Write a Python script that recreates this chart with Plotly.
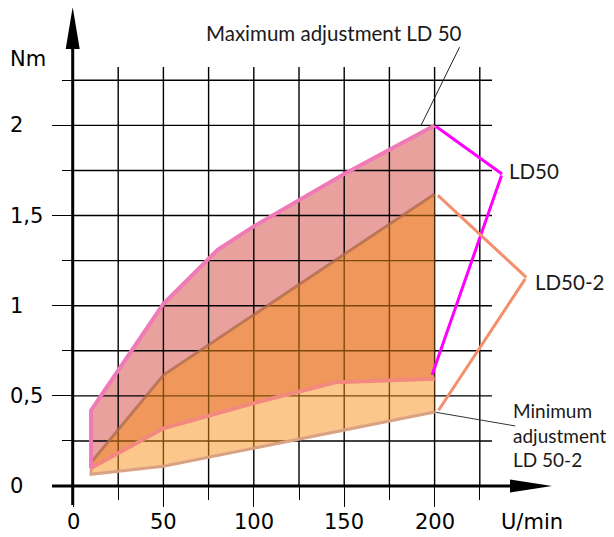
import plotly.graph_objects as go

# ---------------- data ----------------
ld50_upper_x = [10, 50, 80, 100, 150, 200]
ld50_upper_y = [0.42, 1.01, 1.31, 1.44, 1.73, 2.0]
ld50_lower_x = [10, 50, 100, 145, 200]
ld50_lower_y = [0.10, 0.32, 0.46, 0.575, 0.595]

ld502_upper_x = [10, 50, 200]
ld502_upper_y = [0.13, 0.615, 1.62]
ld502_lower_x = [10, 50, 200]
ld502_lower_y = [0.065, 0.11, 0.41]

x_tick_vals = [0, 50, 100, 150, 200]
x_tick_text = ["0", "50", "100", "150", "200"]
y_tick_vals = [0, 0.5, 1, 1.5, 2]
y_tick_text = ["0", "0,5", "1", "1,5", "2"]
x_grid_step = 25
y_grid_step = 0.25

# ---------------- geometry ----------------
W, H = 614, 537
OFF = 8  # page body margin
L, T, PW, PH = 73 - OFF, 67 - OFF, 419, 419
R, B = W - L - PW, H - T - PH
X_PER, Y_PER = 1.808, 180.3
x_max = PW / X_PER
y_max = PH / Y_PER


def pxx(p):
    return (p - OFF - L) / PW


def pxy(p):
    return (T + PH - (p - OFF)) / PH


fig = go.Figure()

# LD50 (pink) region
fig.add_trace(go.Scatter(
    x=ld50_upper_x + ld50_lower_x[::-1],
    y=ld50_upper_y + ld50_lower_y[::-1],
    fill="toself", fillcolor="#E9A19E", mode="lines",
    line=dict(width=0), hoverinfo="skip", showlegend=False))

# grid (drawn above the pink area, below the orange one)
gx, gy = [], []
v = x_grid_step
while v < x_max:
    gx += [v, v, None]
    gy += [0, y_max, None]
    v += x_grid_step
v = y_grid_step
while v < y_max:
    gx += [0, x_max, None]
    gy += [v, v, None]
    v += y_grid_step
fig.add_trace(go.Scatter(x=gx, y=gy, mode="lines",
                         line=dict(color="black", width=1.4),
                         hoverinfo="skip", showlegend=False))

# LD50-2 (orange) region
fig.add_trace(go.Scatter(
    x=ld502_upper_x + ld502_lower_x[::-1],
    y=ld502_upper_y + ld502_lower_y[::-1],
    fill="toself", fillcolor="rgba(247,143,23,0.5)", mode="lines",
    line=dict(width=0), hoverinfo="skip", showlegend=False))

# boundary lines
fig.add_trace(go.Scatter(x=ld502_upper_x, y=ld502_upper_y, mode="lines",
                         line=dict(color="rgba(175,105,75,0.75)", width=3),
                         hoverinfo="skip", showlegend=False))
fig.add_trace(go.Scatter(x=[ld502_upper_x[0]] + ld502_lower_x,
                         y=[ld502_upper_y[0]] + ld502_lower_y, mode="lines",
                         line=dict(color="#D9A283", width=3),
                         hoverinfo="skip", showlegend=False))
fig.add_trace(go.Scatter(x=ld50_lower_x, y=ld50_lower_y, mode="lines",
                         line=dict(color="#F3887F", width=4),
                         hoverinfo="skip", showlegend=False))
fig.add_trace(go.Scatter(x=[ld50_lower_x[0]] + ld50_upper_x,
                         y=[ld50_lower_y[0]] + ld50_upper_y, mode="lines",
                         line=dict(color="#F07AB5", width=4),
                         hoverinfo="skip", showlegend=False))

annotations = []

# tick labels
num_font = dict(family="DejaVu Sans", size=21, color="black")
for v, t in zip(x_tick_vals, x_tick_text):
    annotations.append(dict(x=v, xref="x", y=pxy(522), yref="paper", text=t,
                            showarrow=False, xanchor="center", yanchor="middle",
                            font=num_font))
for v, t in zip(y_tick_vals, y_tick_text):
    annotations.append(dict(x=pxx(8), xref="paper", y=v, yref="y", text=t,
                            showarrow=False, xanchor="left", yanchor="middle",
                            font=num_font))
annotations.append(dict(x=pxx(8), xref="paper", y=pxy(59), yref="paper", text="Nm",
                        showarrow=False, xanchor="left", yanchor="middle", font=num_font))
annotations.append(dict(x=pxx(499), xref="paper", y=pxy(522), yref="paper", text="U/min",
                        showarrow=False, xanchor="left", yanchor="middle", font=num_font))

# callout texts
lab_font = dict(family="Lato", size=20.5, color="#1a1a1a")
small_lab_font = dict(family="Lato", size=19, color="#1a1a1a")
annotations.append(dict(x=pxx(334), xref="paper", y=pxy(33), yref="paper",
                        text="Maximum adjustment LD 50", showarrow=False,
                        xanchor="center", yanchor="middle", font=lab_font))
annotations.append(dict(x=pxx(507), xref="paper", y=pxy(171), yref="paper",
                        text="LD50", showarrow=False,
                        xanchor="left", yanchor="middle", font=lab_font))
annotations.append(dict(x=pxx(533), xref="paper", y=pxy(282), yref="paper",
                        text="LD50-2", showarrow=False,
                        xanchor="left", yanchor="middle", font=lab_font))
annotations.append(dict(x=pxx(511), xref="paper", y=pxy(435), yref="paper",
                        text="Minimum<br>adjustment<br>LD 50-2", showarrow=False,
                        xanchor="left", yanchor="middle", align="left",
                        font=small_lab_font))


def seg(x0, y0, x1, y1, color, width):
    return dict(x=x1, y=y1, xref="x", yref="y", ax=x0, ay=y0, axref="x", ayref="y",
                text="", showarrow=True, arrowhead=0, arrowwidth=width,
                arrowcolor=color, standoff=0, startstandoff=0)


# leader lines
ul_y = (486 - 45.7) / Y_PER
annotations.append(seg(69.5, ul_y, 214.2, ul_y, "#333333", 1.2))
annotations.append(seg(214.2, ul_y, 192.5, ld50_upper_y[-1], "#222222", 1.0))
annotations.append(seg(ld50_upper_x[-1], ld50_upper_y[-1], 237.3, 1.73, "#FF00FF", 3))
annotations.append(seg(237.3, 1.73, 198.6, 0.616, "#FF00FF", 3))
annotations.append(seg(201, ld502_upper_y[-1], 250.7, 1.157, "#F48F6E", 3))
annotations.append(seg(250.7, 1.157, 202.2, 0.42, "#F48F6E", 3))
annotations.append(seg(ld502_lower_x[-1], ld502_lower_y[-1], 244.6, 0.333, "#333333", 1.0))

# axes with arrows (decoration)
shapes = [
    dict(type="line", xref="paper", yref="paper", x0=pxx(72.7), x1=pxx(72.7),
         y0=pxy(505), y1=pxy(47), line=dict(color="black", width=3)),
    dict(type="path", xref="paper", yref="paper",
         path=f"M {pxx(72.7)},{pxy(7)} L {pxx(65.7)},{pxy(49)} L {pxx(79.7)},{pxy(49)} Z",
         fillcolor="black", line=dict(color="black", width=0)),
    dict(type="line", xref="paper", yref="paper", x0=pxx(52), x1=pxx(512),
         y0=pxy(486), y1=pxy(486), line=dict(color="black", width=3)),
    dict(type="path", xref="paper", yref="paper",
         path=f"M {pxx(552)},{pxy(486)} L {pxx(510)},{pxy(479.5)} L {pxx(510)},{pxy(492.5)} Z",
         fillcolor="black", line=dict(color="black", width=0)),
]

fig.update_layout(
    width=W, height=H,
    margin=dict(l=L, r=R, t=T, b=B, pad=0),
    paper_bgcolor="white", plot_bgcolor="white",
    showlegend=False,
    annotations=annotations,
    shapes=shapes,
    xaxis=dict(range=[0, x_max], showgrid=False, zeroline=False, showline=False,
               showticklabels=False, tickmode="linear", tick0=0, dtick=50,
               ticks="outside", ticklen=20, tickwidth=1.4, tickcolor="black",
               minor=dict(tickmode="linear", tick0=0, dtick=x_grid_step, ticks="outside",
                          ticklen=13, tickwidth=1.4, tickcolor="black", showgrid=False),
               fixedrange=True),
    yaxis=dict(range=[0, y_max], showgrid=False, zeroline=False, showline=False,
               showticklabels=False, tickmode="linear", tick0=0, dtick=0.5,
               ticks="outside", ticklen=20, tickwidth=1.4, tickcolor="black",
               minor=dict(tickmode="linear", tick0=0, dtick=y_grid_step, ticks="outside",
                          ticklen=10, tickwidth=1.4, tickcolor="black", showgrid=False),
               fixedrange=True),
)

fig.write_html("out.html")
